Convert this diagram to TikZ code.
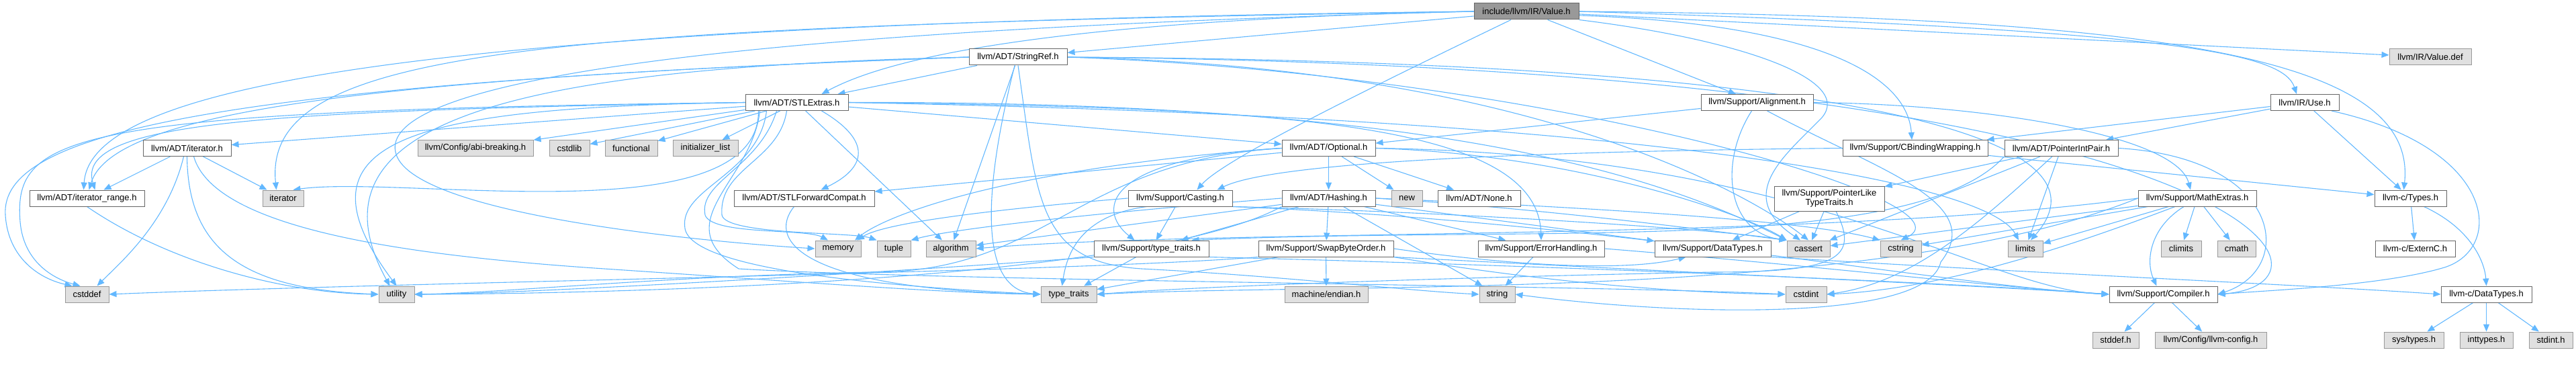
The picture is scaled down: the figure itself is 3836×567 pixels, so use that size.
\documentclass[tikz,border=0pt]{standalone}
\usepackage{fontspec}
\setmainfont{Liberation Sans}
\usetikzlibrary{arrows.meta}
\pgfdeclarelayer{background}
\pgfsetlayers{background,main}
\definecolor{edgec}{HTML}{63B8FF}
\definecolor{projb}{HTML}{666666}
\definecolor{sysb}{HTML}{999999}
\definecolor{sysf}{HTML}{E0E0E0}
\definecolor{rootf}{HTML}{999999}
\begin{document}
\begin{tikzpicture}[x=1pt,y=1pt,
  nbase/.style={rectangle, inner sep=0pt, minimum height=24pt, line width=1pt, font=\fontsize{13}{14}\selectfont, text=black},
  proj/.style={nbase, draw=projb, fill=white},
  sys/.style={nbase, draw=sysb, fill=sysf},
  rootn/.style={nbase, draw=projb, fill=rootf},
  dep/.style={draw=edgec, line width=1.1pt, -{Triangle[length=11pt,width=9pt]}},
]
\useasboundingbox (0,0) rectangle (3836,-567);
% row 0
\node[rootn, minimum width=156pt] (V) at (2273,-17) {include/llvm/IR/Value.h};
% row 1
\node[proj, minimum width=146pt] (SR) at (1516,-85) {llvm/ADT/StringRef.h};
\node[sys, minimum width=122pt] (VDEF) at (3619,-85) {llvm/IR/Value.def};
% row 2
\node[proj, minimum width=153pt] (SE) at (1186.5,-152.5) {llvm/ADT/STLExtras.h};
\node[proj, minimum width=167pt] (AL) at (2616.5,-152.5) {llvm/Support/Alignment.h};
\node[proj, minimum width=102pt] (USE) at (3432,-152.5) {llvm/IR/Use.h};
% row 3
\node[proj, minimum width=131pt] (IT) at (278.5,-220.5) {llvm/ADT/iterator.h};
\node[sys, minimum width=172pt] (ABI) at (708,-220.5) {llvm/Config/abi-breaking.h};
\node[sys, minimum width=60pt] (CSTDLIB) at (848,-220.5) {cstdlib};
\node[sys, minimum width=78pt] (FUNC) at (940,-220.5) {functional};
\node[sys, minimum width=97pt] (INIT) at (1050.5,-220.5) {initializer\_list};
\node[proj, minimum width=139pt] (OP) at (1978.5,-220.5) {llvm/ADT/Optional.h};
\node[proj, minimum width=216pt] (CBW) at (2852,-220.5) {llvm/Support/CBindingWrapping.h};
\node[proj, minimum width=169pt] (PIP) at (3069.5,-220.5) {llvm/ADT/PointerIntPair.h};
% row 4
\node[proj, minimum width=171pt] (IR) at (129.5,-295) {llvm/ADT/iterator\_range.h};
\node[sys, minimum width=61pt] (ITER) at (421.5,-295) {iterator};
\node[proj, minimum width=209pt] (SFC) at (1197.5,-295) {llvm/ADT/STLForwardCompat.h};
\node[proj, minimum width=155pt] (CA) at (1757.5,-295) {llvm/Support/Casting.h};
\node[proj, minimum width=139pt] (HA) at (1978.5,-295) {llvm/ADT/Hashing.h};
\node[sys, minimum width=46pt] (NEW) at (2095,-295) {new};
\node[proj, minimum width=123pt] (NONE) at (2202.5,-295) {llvm/ADT/None.h};
\node[proj, minimum width=164pt, minimum height=37pt, align=center] (PLTT) at (2724,-295.5) {llvm/Support/PointerLike\\TypeTraits.h};
\node[proj, minimum width=176pt] (ME) at (3272,-295) {llvm/Support/MathExtras.h};
\node[proj, minimum width=107pt] (TY) at (3589.5,-295) {llvm-c/Types.h};
% row 5
\node[sys, minimum width=68pt] (MEM) at (1248,-370) {memory};
\node[sys, minimum width=50pt] (TUP) at (1331,-370) {tuple};
\node[sys, minimum width=74pt] (ALG) at (1416,-370) {algorithm};
\node[proj, minimum width=171pt] (STT) at (1714.5,-370) {llvm/Support/type\_traits.h};
\node[proj, minimum width=201pt] (SBO) at (1974.5,-370) {llvm/Support/SwapByteOrder.h};
\node[proj, minimum width=188pt] (EH) at (2295,-370) {llvm/Support/ErrorHandling.h};
\node[proj, minimum width=173pt] (SDT) at (2550.5,-370) {llvm/Support/DataTypes.h};
\node[sys, minimum width=64pt] (CASSERT) at (2693,-370) {cassert};
\node[sys, minimum width=61pt] (CSTRING) at (2830.5,-370) {cstring};
\node[sys, minimum width=52pt] (LIMITS) at (3016,-370) {limits};
\node[sys, minimum width=60pt] (CLIMITS) at (3248,-370) {climits};
\node[sys, minimum width=57pt] (CMATH) at (3330.5,-370) {cmath};
\node[proj, minimum width=119pt] (EXTC) at (3596.5,-370) {llvm-c/ExternC.h};
% row 6
\node[sys, minimum width=65pt] (CSTDDEF) at (129.5,-438) {cstddef};
\node[sys, minimum width=53pt] (UTIL) at (590.5,-438) {utility};
\node[sys, minimum width=83pt] (TT) at (1591.5,-438) {type\_traits};
\node[sys, minimum width=124pt] (END) at (1975,-438) {machine/endian.h};
\node[sys, minimum width=53pt] (STR) at (2229.5,-438) {string};
\node[sys, minimum width=61pt] (CSTDINT) at (2689.5,-438) {cstdint};
\node[proj, minimum width=161pt] (CO) at (3221.5,-438) {llvm/Support/Compiler.h};
\node[proj, minimum width=135pt] (CDT) at (3702.5,-438) {llvm-c/DataTypes.h};
% row 7
\node[sys, minimum width=69pt] (STDDEF) at (3150.5,-506) {stddef.h};
\node[sys, minimum width=166pt] (CFG) at (3292,-506) {llvm/Config/llvm-config.h};
\node[sys, minimum width=89pt] (SYS) at (3594.5,-506) {sys/types.h};
\node[sys, minimum width=79pt] (INTT) at (3702.5,-506) {inttypes.h};
\node[sys, minimum width=65pt] (STDINT) at (3798.5,-506) {stdint.h};

\begin{pgfonlayer}{background}
% Value.h
\draw[dep] (V.east) .. controls (3250,-25) and (3600,-90) .. ([xshift=-10pt]TY.north);
\draw[dep] (V.west) .. controls (1800,-25) and (1380,-55) .. ([xshift=37pt]SE.north);
\draw[dep] (V) -- (SR);
\draw[dep] (V.west) .. controls (600,-35) and (135,-130) .. ([xshift=-5pt]IR.north);
\draw[dep] (V.east) .. controls (3250,-45) and (3400,-80) .. ([xshift=-12pt]USE.north);
\draw[dep] (V) -- (AL);
\draw[dep] ([yshift=-6pt]V.east) .. controls (2700,-35) and (2840,-110) .. ([xshift=-5pt]CBW.north);
\draw[dep] ([xshift=-23pt]V.south) .. controls (2000,-150) and (1820,-240) .. ([xshift=25pt]CA.north);
\draw[dep] (V.south east) .. controls (2600,-60) and (2760,-120) .. (2713,-175) .. controls (2660,-230) and (2580,-290) .. ([xshift=-12pt]CASSERT.north);
\draw[dep] (V.west) .. controls (800,-40) and (390,-70) .. ([xshift=-10pt]ITER.north);
\draw[dep] (V.west) .. controls (900,-50) and (560,-140) .. (590,-230) .. controls (620,-320) and (1050,-360) .. (MEM.west);
\draw[dep] (V) -- (VDEF);
% StringRef.h
\draw[dep] (SR) -- (SE);
\draw[dep] (SR.west) .. controls (600,-115) and (170,-160) .. ([xshift=3pt]IR.north);
\draw[dep] (SR.east) .. controls (3350,-100) and (3520,-420) .. (CO.east);
\draw[dep] (SR) -- (ALG);
\draw[dep] (SR.east) .. controls (2300,-100) and (2620,-300) .. (CASSERT.north);
\draw[dep] (SR.west) .. controls (300,-125) and (0,-200) .. (8,-320) .. controls (12,-385) and (60,-415) .. ([xshift=-22pt]CSTDDEF.north);
\draw[dep] (SR.east) .. controls (2300,-110) and (2950,-300) .. (CSTRING.north);
\draw[dep] (SR.east) .. controls (2600,-90) and (3180,-180) .. ([xshift=8pt]LIMITS.north);
\draw[dep] (SR.south) .. controls (1545,-300) and (1545,-390) .. (1700,-400) .. controls (1900,-410) and (2100,-433) .. (STR.west);
\draw[dep] ([xshift=-5pt]SR.south) .. controls (1470,-260) and (1450,-430) .. (TT.west);
\draw[dep] (SR.west) .. controls (800,-100) and (440,-170) .. ([xshift=-10pt]UTIL.north);
% STLExtras.h
\draw[dep] (SE) -- (OP);
\draw[dep] ([xshift=-40pt]SE.south east) .. controls (1300,-210) and (1290,-250) .. ([xshift=25pt]SFC.north);
\draw[dep] (SE) -- (IT);
\draw[dep] (SE.west) .. controls (400,-165) and (110,-180) .. ([xshift=12pt]IR.north);
\draw[dep] (SE) -- (ABI);
\draw[dep] (SE.east) .. controls (1900,-160) and (2290,-180) .. (EH.north);
\draw[dep] (SE) -- (ALG);
\draw[dep] (SE.east) .. controls (2100,-150) and (2450,-250) .. (CASSERT.north west);
\draw[dep] (SE.west) .. controls (100,-165) and (20,-200) .. (30,-330) .. controls (35,-390) and (80,-415) .. ([xshift=-10pt]CSTDDEF.north);
\draw[dep] ([xshift=-55pt]SE.south) .. controls (1120,-270) and (990,-330) .. (1100,-400) .. controls (1400,-418) and (2400,-425) .. (CSTDINT.west);
\draw[dep] (SE) -- (CSTDLIB);
\draw[dep] (SE) -- (FUNC);
\draw[dep] (SE) -- (INIT);
\draw[dep] ([xshift=20pt]SE.south west) .. controls (1130,-350) and (600,-260) .. ([xshift=15pt]ITER.north);
\draw[dep] (SE.east) .. controls (2450,-175) and (2960,-270) .. ([xshift=-10pt]LIMITS.north);
\draw[dep] ([xshift=-30pt]SE.south) .. controls (1130,-250) and (1040,-270) .. (1050,-320) .. controls (1060,-350) and (1200,-340) .. ([xshift=-15pt]MEM.north);
\draw[dep] ([xshift=-15pt]SE.south) .. controls (1160,-240) and (1070,-250) .. (1075,-320) .. controls (1080,-350) and (1270,-345) .. (TUP.north west);
\draw[dep] ([xshift=-45pt]SE.south) .. controls (1130,-260) and (1010,-280) .. (1020,-340) .. controls (1030,-400) and (1300,-425) .. (TT.west);
\draw[dep] (SE.west) .. controls (600,-160) and (430,-210) .. (UTIL.north);
% iterator.h, iterator_range.h
\draw[dep] (IT) -- (IR);
\draw[dep] ([xshift=-5pt]IT.south) .. controls (250,-330) and (180,-390) .. ([xshift=15pt]CSTDDEF.north);
\draw[dep] (IT) -- (ITER);
\draw[dep] ([xshift=10pt]IT.south) .. controls (320,-340) and (600,-380) .. (900,-400) .. controls (1200,-420) and (1400,-436) .. (TT.west);
\draw[dep] (IT.south) .. controls (280,-370) and (360,-430) .. (UTIL.west);
\draw[dep] (IR.south) .. controls (250,-390) and (420,-436) .. (UTIL.west);
% Optional.h
\draw[dep] (OP) -- (HA);
\draw[dep] (OP) -- (NONE);
\draw[dep] (OP) -- (NEW);
\draw[dep] (OP) -- (SFC);
\draw[dep] (OP.east) .. controls (2700,-230) and (2950,-430) .. (CO.west);
\draw[dep] (OP.west) .. controls (1650,-235) and (1630,-310) .. ([xshift=-25pt]STT.north);
\draw[dep] (OP.east) .. controls (2350,-230) and (2600,-320) .. (CASSERT.north west);
\draw[dep] (OP.west) .. controls (1500,-250) and (1320,-320) .. ([xshift=25pt]MEM.north);
\draw[dep] (OP.west) .. controls (1600,-240) and (1560,-405) .. (1300,-405) .. controls (1000,-410) and (750,-436) .. (UTIL.east);
% STLForwardCompat.h
\draw[dep] ([xshift=-15pt]SFC.south) .. controls (1140,-360) and (1200,-430) .. (TT.west);
% Hashing.h
\draw[dep] (HA) -- (SBO);
\draw[dep] (HA) -- (EH);
\draw[dep] (HA) -- (STR);
\draw[dep] (HA) -- (SDT);
\draw[dep] (HA.east) .. controls (2300,-310) and (2560,-345) .. (CASSERT.north west);
\draw[dep] (HA.east) .. controls (2400,-310) and (2700,-330) .. (CSTRING.north west);
\draw[dep] (HA) -- (STT);
\draw[dep] (HA) -- (ALG);
\draw[dep] (HA.west) .. controls (1650,-315) and (1420,-340) .. (TUP.north east);
\draw[dep] (HA.south west) .. controls (1700,-420) and (900,-437) .. (UTIL.east);
% SwapByteOrder.h
\draw[dep] (SBO) -- (END);
\draw[dep] (SBO) -- (TT);
\draw[dep] (SBO.south west) .. controls (1600,-405) and (600,-420) .. (CSTDDEF.east);
\draw[dep] (SBO.south east) .. controls (2300,-420) and (2500,-436) .. (CSTDINT.west);
\draw[dep] (SBO.east) .. controls (2250,-395) and (2420,-405) .. ([xshift=-40pt]SDT.south);
\draw[dep] (SBO.south east) .. controls (2600,-410) and (2950,-425) .. (CO.west);
% ErrorHandling.h
\draw[dep] (EH) -- (STR);
\draw[dep] (EH.east) .. controls (2700,-395) and (2950,-425) .. (CO.west);
% type_traits.h
\draw[dep] (STT) -- (TT);
\draw[dep] (STT.south west) .. controls (1400,-400) and (800,-437) .. (UTIL.east);
\draw[dep] (STT.south east) .. controls (2300,-395) and (2900,-420) .. (CO.west);
% Casting.h
\draw[dep] (CA) -- (STT);
\draw[dep] ([xshift=-50pt]CA.south) .. controls (1615,-320) and (1590,-370) .. ([xshift=-10pt]TT.north);
\draw[dep] (CA.south east) .. controls (2150,-315) and (2550,-340) .. (CASSERT.north west);
\draw[dep] (CA.west) .. controls (1500,-310) and (1320,-330) .. ([xshift=28pt]MEM.north);
\draw[dep] (CA.south east) .. controls (2400,-330) and (2900,-425) .. (CO.west);
% DataTypes
\draw[dep] (SDT.south east) .. controls (3000,-405) and (3450,-425) .. (CDT.west);
\draw[dep] (CDT) -- (SYS);
\draw[dep] (CDT) -- (INTT);
\draw[dep] (CDT) -- (STDINT);
% Compiler.h
\draw[dep] (CO) -- (STDDEF);
\draw[dep] (CO) -- (CFG);
% Alignment.h
\draw[dep] (AL) -- (OP);
\draw[dep] ([xshift=-8pt]AL.south) .. controls (2560,-240) and (2570,-345) .. (CASSERT.north west);
\draw[dep] (AL.east) .. controls (2950,-155) and (3240,-200) .. ([xshift=-10pt]ME.north);
\draw[dep] ([xshift=15pt]AL.south) .. controls (2800,-255) and (2960,-300) .. (2890,-390) .. controls (2870,-480) and (2500,-470) .. (STR.east);
% Use.h
\draw[dep] (USE) -- (TY);
\draw[dep] (USE) -- (PIP);
\draw[dep] (USE) -- (CBW);
\draw[dep] ([xshift=40pt]USE.south) .. controls (3720,-220) and (3730,-370) .. (3640,-398) .. controls (3550,-425) and (3380,-432) .. (CO.east);
% CBindingWrapping.h
\draw[dep] (CBW.west) .. controls (2300,-225) and (1900,-240) .. ([xshift=55pt]CA.north);
\draw[dep] (CBW) -- (TY);
% PointerIntPair.h
\draw[dep] (PIP) -- (LIMITS);
\draw[dep] (PIP) -- (PLTT);
\draw[dep] (PIP.south west) .. controls (2850,-380) and (2300,-335) .. ([xshift=60pt]STT.north);
\draw[dep] (PIP) -- (CASSERT);
\draw[dep] (PIP) .. controls (2950,-330) and (2850,-420) .. (CSTDINT.east);
\draw[dep] (PIP.east) .. controls (3400,-235) and (3420,-400) .. (CO.east);
% PointerLikeTypeTraits.h
\draw[dep] (PLTT) -- (SDT);
\draw[dep] (PLTT) -- (CASSERT);
\draw[dep] ([xshift=10pt]PLTT.south) .. controls (2770,-385) and (2735,-405) .. (2550,-405) .. controls (2200,-412) and (1800,-425) .. (TT.east);
% MathExtras.h
\draw[dep] (ME) -- (CLIMITS);
\draw[dep] (ME) -- (CMATH);
\draw[dep] ([xshift=-20pt]ME.south) .. controls (3200,-340) and (3195,-390) .. ([xshift=-10pt]CO.north);
\draw[dep] (ME) -- (LIMITS);
\draw[dep] (ME) -- (CASSERT);
\draw[dep] (ME) -- (CSTRING);
\draw[dep] (ME) .. controls (3100,-360) and (2900,-430) .. (CSTDINT.east);
\draw[dep] (ME.west) .. controls (2700,-360) and (1800,-340) .. (ALG.east);
\draw[dep] (ME.west) .. controls (2800,-450) and (2000,-420) .. (TT.east);
% Types.h
\draw[dep] (TY) -- (EXTC);
\draw[dep] ([xshift=20pt]TY.south) .. controls (3680,-340) and (3700,-390) .. (CDT.north);
\end{pgfonlayer}
\end{tikzpicture}
\end{document}
